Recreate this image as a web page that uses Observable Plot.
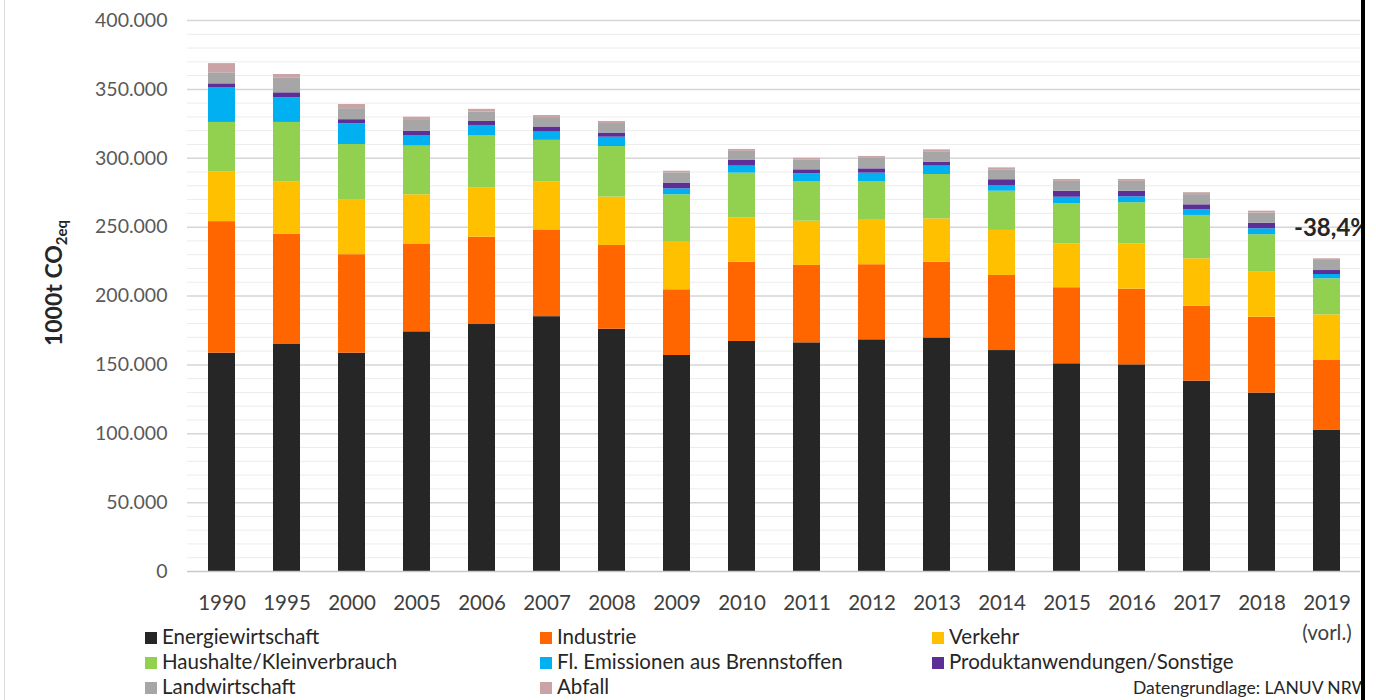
<!DOCTYPE html>
<html>
<head>
<meta charset="utf-8">
<script src="https://cdn.jsdelivr.net/npm/d3@7"></script>
<script src="https://cdn.jsdelivr.net/npm/@observablehq/plot@0.6"></script>
<style>
  html, body { margin: 0; padding: 0; background: #fff; }
  #wrap { position: relative; width: 1376px; height: 700px; overflow: hidden; font-family: Lato, "Open Sans", sans-serif; }
  #chart { position: absolute; left: 0; top: 0; }
  #ytitle { position: absolute; left: 54px; top: 283px; transform: translate(-50%, -50%) rotate(-90deg); white-space: nowrap;
            font-weight: bold; font-size: 23px; color: #262626; }
  #ytitle sub { font-size: 15px; vertical-align: -5px; }
  .lg { position: absolute; font-size: 20.5px; color: #262626; white-space: nowrap; line-height: 22px; }
  .lg i { display: inline-block; width: 12px; height: 12px; margin-right: 5px; vertical-align: 0px; }
  #source { position: absolute; left: 1133px; top: 677px; font-size: 17.5px; color: #262626; white-space: nowrap; }
  #edge { position: absolute; left: 1361px; top: 0; width: 15px; height: 700px; background: #fff; border-left: 4px solid #000; box-sizing: border-box; }
  #leftline { position: absolute; left: 4px; top: 0; width: 1px; height: 700px; background: #dcdcdc; }
</style>
</head>
<body>
<div id="wrap">
  <div id="chart"></div>
  <div id="ytitle">1000t CO<sub>2eq</sub></div>
  <div id="legend"></div>
  <div id="source">Datengrundlage: LANUV NRW</div>
  <div id="leftline"></div>
  <div id="edge"></div>
</div>
<script>
// Treibhausgasemissionen NRW nach Sektoren, in 1000 t CO2-Äquivalent
const years = ["1990", "1995", "2000", "2005", "2006", "2007", "2008", "2009", "2010",
               "2011", "2012", "2013", "2014", "2015", "2016", "2017", "2018", "2019"];

const sectors = ["Energiewirtschaft", "Industrie", "Verkehr", "Haushalte/Kleinverbrauch",
                 "Fl. Emissionen aus Brennstoffen", "Produktanwendungen/Sonstige",
                 "Landwirtschaft", "Abfall"];

const sectorColors = ["#262626", "#ff6600", "#ffc000", "#92d050",
                      "#00b0f0", "#5b2f96", "#a6a6a6", "#c9a3a5"];

const energiewirtschaft = [158500, 164800, 158500, 174000, 179300, 185000, 175900, 156800, 167000,
                           166000, 168200, 169600, 160400, 150800, 150000, 138200, 129500, 102400];
const industrie         = [95500, 80200, 71500, 63400, 63400, 63000, 60800, 47700, 57500,
                           56200, 54500, 54900, 54500, 55200, 55000, 54400, 55100, 50800];
const verkehr           = [36000, 38000, 40000, 36100, 35600, 35000, 35100, 34500, 32300,
                           32100, 32800, 31500, 32700, 31900, 32900, 34400, 32700, 33100];
const haushalte         = [36000, 43000, 40000, 35300, 38200, 30000, 36700, 34500, 32400,
                           28800, 27600, 32200, 28500, 29000, 29800, 31500, 27200, 26200];
const flEmissionen      = [25000, 18000, 15000, 7700, 7300, 6000, 6800, 4300, 5100,
                           5600, 6100, 6100, 4100, 4800, 4300, 4100, 4300, 3100];
const produktanwendungen = [3000, 3500, 3000, 3200, 2900, 3700, 3000, 4200, 4100,
                            2900, 3100, 2900, 4200, 4400, 4100, 3600, 4100, 2900];
const landwirtschaft    = [8000, 10900, 8000, 7700, 6800, 6800, 6900, 7300, 6600,
                           7000, 7600, 7500, 7200, 7100, 7100, 7400, 7300, 7300];
const abfall            = [6700, 2400, 3000, 2400, 2000, 1500, 1500, 1300, 1400,
                           1400, 1400, 1400, 1400, 1400, 1400, 1400, 1400, 1200];

const yTicks = [0, 50000, 100000, 150000, 200000, 250000, 300000, 350000, 400000];

const series = [energiewirtschaft, industrie, verkehr, haushalte,
                flEmissionen, produktanwendungen, landwirtschaft, abfall];

// long format: one row per year and sector, stacked in sector order
const rows = [];
years.forEach((year, i) => {
  sectors.forEach((sector, s) => rows.push({year, sector, value: series[s][i]}));
});

const totals = years.map((year, i) => ({year, total: d3.sum(series, s => s[i])}));
const change = totals[totals.length - 1].total / totals[0].total - 1;

const de = d3.formatLocale({decimal: ",", thousands: ".", grouping: [3], currency: ["", " €"]});
const fmtInt = de.format(",d");
const fmtPct = de.format(".1f");

const minorGrid = d3.range(10000, 400001, 10000).filter(v => v % 50000 !== 0);

const chart = Plot.plot({
  width: 1376,
  height: 700,
  marginLeft: 187,
  marginRight: 16,
  marginTop: 20,
  marginBottom: 129,
  style: {fontFamily: "Lato, 'Open Sans', sans-serif", background: "transparent"},
  x: {domain: years, paddingInner: 0.586, paddingOuter: 0.29},
  y: {domain: [0, 400000]},
  color: {domain: sectors, range: sectorColors},
  marks: [
    Plot.ruleY(minorGrid, {stroke: "#ececec", strokeWidth: 1}),
    Plot.ruleY(yTicks.filter(v => v > 0), {stroke: "#d6d6d6", strokeWidth: 1.5}),
    Plot.barY(rows, {x: "year", y: "value", fill: "sector", order: sectors}),
    Plot.ruleY([0], {stroke: "#c8c8c8", strokeWidth: 1.5}),
    Plot.axisY({ticks: yTicks, tickSize: 0, tickPadding: 20, tickFormat: v => fmtInt(v),
                fontSize: 19.5, color: "#595959", label: null}),
    Plot.axisX({tickSize: 0, tickPadding: 24, fontSize: 20.5, color: "#404040", label: null}),
    Plot.text(["2019"], {x: d => d, y: 0, dy: 62, text: () => "(vorl.)",
                         fontSize: 20.5, fill: "#404040"}),
    Plot.text(totals.slice(-1), {x: "year", y: "total", dy: -30, dx: 5,
                                 text: () => (change < 0 ? "-" : "+") + fmtPct(Math.abs(change) * 100) + "%",
                                 fontSize: 24, fontWeight: "bold", fill: "#262626"})
  ]
});
document.getElementById("chart").appendChild(chart);

// legend in three columns, filled row by row
const legend = document.getElementById("legend");
const colX = [145, 540, 932];
const rowY = [625, 650, 675];
sectors.forEach((sector, s) => {
  const item = document.createElement("div");
  item.className = "lg";
  item.style.left = colX[s % 3] + "px";
  item.style.top = rowY[Math.floor(s / 3)] + "px";
  const sw = document.createElement("i");
  sw.style.background = sectorColors[s];
  item.appendChild(sw);
  item.appendChild(document.createTextNode(sector));
  legend.appendChild(item);
});
</script>
</body>
</html>
